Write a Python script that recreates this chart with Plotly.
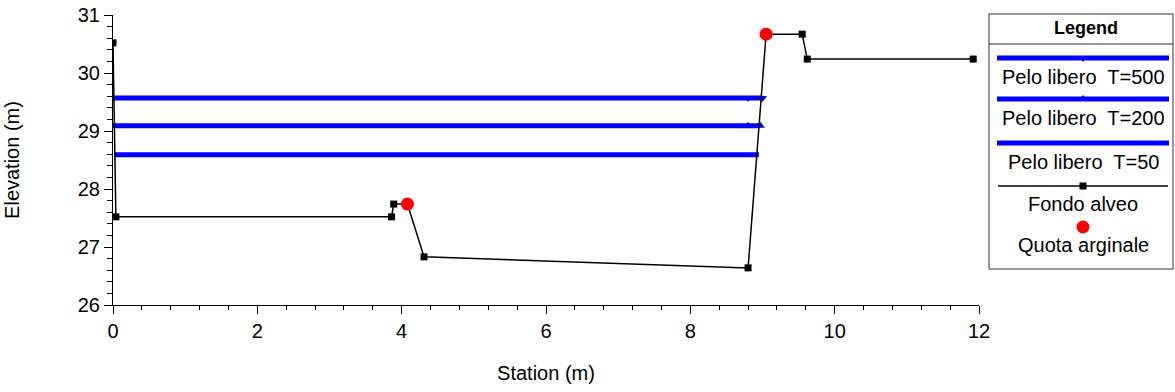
import plotly.graph_objects as go

# ---- data ----
station_fondo = [0.0, 0.04, 3.86, 3.89, 4.08, 4.31, 8.80, 9.05, 9.55, 9.62, 11.92]
quota_fondo = [30.52, 27.52, 27.52, 27.74, 27.74, 26.83, 26.64, 30.67, 30.67, 30.24, 30.24]

station_argine = [4.08, 9.05]
quota_argine = [27.74, 30.67]

station_t500 = [0.01, 8.80, 9.00]
quota_t500 = [29.57, 29.57, 29.57]
station_t200 = [0.02, 8.80, 8.97]
quota_t200 = [29.09, 29.09, 29.09]
station_t50 = [0.02, 8.80, 8.95]
quota_t50 = [28.59, 28.59, 28.59]

legend_labels = ["Pelo libero  T=500", "Pelo libero  T=200", "Pelo libero  T=50",
                 "Fondo alveo", "Quota arginale"]

FONT = "Liberation Sans, Arial, sans-serif"
BLUE = "#0000ff"
FS = 20

fig = go.Figure()
fig.add_trace(go.Scatter(x=station_t50, y=quota_t50, mode="lines",
                         line=dict(color=BLUE, width=5), name=legend_labels[2]))
fig.add_trace(go.Scatter(x=station_t200, y=quota_t200, mode="lines+markers",
                         line=dict(color=BLUE, width=5),
                         marker=dict(symbol="triangle-up", size=8, color=BLUE),
                         name=legend_labels[1]))
fig.add_trace(go.Scatter(x=station_t500, y=quota_t500, mode="lines+markers",
                         line=dict(color=BLUE, width=5),
                         marker=dict(symbol="triangle-down", size=8, color=BLUE),
                         name=legend_labels[0]))
fig.add_trace(go.Scatter(x=station_fondo, y=quota_fondo, mode="lines+markers",
                         line=dict(color="black", width=1.5),
                         marker=dict(symbol="square", size=7, color="black"),
                         name=legend_labels[3]))
fig.add_trace(go.Scatter(x=station_argine, y=quota_argine, mode="markers",
                         marker=dict(symbol="circle", size=13, color="#ff0000"),
                         name=legend_labels[4]))

# ---- custom legend box (pixel -> paper helpers) ----
L, T, W, H = 113, 15, 866, 290
def px(x):
    return (x - L) / W
def py(y):
    return (T + H - y) / H

shapes = []
annotations = []
# box
shapes.append(dict(type="rect", xref="paper", yref="paper",
                   x0=px(989), x1=px(1173), y0=py(269), y1=py(14),
                   line=dict(color="#333333", width=1), fillcolor="white"))
shapes.append(dict(type="line", xref="paper", yref="paper",
                   x0=px(989), x1=px(1173), y0=py(44), y1=py(44),
                   line=dict(color="#333333", width=1)))
annotations.append(dict(text="<b>Legend</b>", xref="paper", yref="paper",
                        x=px(1086), y=py(28), showarrow=False,
                        xanchor="center", yanchor="middle",
                        font=dict(family=FONT, size=18, color="black")))
cx = 1083
line_rows = [58, 99, 143]
text_rows = [77, 118, 162]
for i in range(3):
    yl = line_rows[i]
    shapes.append(dict(type="line", xref="paper", yref="paper",
                       x0=px(997), x1=px(1169), y0=py(yl), y1=py(yl),
                       line=dict(color=BLUE, width=5)))
    annotations.append(dict(text=legend_labels[i], xref="paper", yref="paper",
                            x=px(cx), y=py(text_rows[i]), showarrow=False,
                            xanchor="center", yanchor="middle",
                            font=dict(family=FONT, size=FS, color="black")))
# tiny marker ticks on legend lines
shapes.append(dict(type="path", xref="paper", yref="paper",
                   path=f"M {px(cx-3)},{py(58)} L {px(cx+3)},{py(58)} L {px(cx)},{py(62)} Z",
                   line=dict(color=BLUE, width=0), fillcolor=BLUE))
shapes.append(dict(type="path", xref="paper", yref="paper",
                   path=f"M {px(cx-3)},{py(99)} L {px(cx+3)},{py(99)} L {px(cx)},{py(95)} Z",
                   line=dict(color=BLUE, width=0), fillcolor=BLUE))
# fondo alveo
shapes.append(dict(type="line", xref="paper", yref="paper",
                   x0=px(998), x1=px(1168), y0=py(186), y1=py(186),
                   line=dict(color="black", width=1.5)))
shapes.append(dict(type="rect", xref="paper", yref="paper",
                   x0=px(cx-3.5), x1=px(cx+3.5), y0=py(189.5), y1=py(182.5),
                   line=dict(width=0), fillcolor="black"))
annotations.append(dict(text=legend_labels[3], xref="paper", yref="paper",
                        x=px(cx), y=py(204), showarrow=False,
                        xanchor="center", yanchor="middle",
                        font=dict(family=FONT, size=FS, color="black")))
# quota arginale
shapes.append(dict(type="circle", xref="paper", yref="paper",
                   x0=px(cx-6.5), x1=px(cx+6.5), y0=py(233.5), y1=py(220.5),
                   line=dict(width=0), fillcolor="#ff0000"))
annotations.append(dict(text=legend_labels[4], xref="paper", yref="paper",
                        x=px(cx), y=py(245), showarrow=False,
                        xanchor="center", yanchor="middle",
                        font=dict(family=FONT, size=FS, color="black")))

fig.update_layout(
    width=1175, height=392,
    margin=dict(l=L, r=1175 - L - W, t=T, b=392 - T - H),
    paper_bgcolor="white", plot_bgcolor="white",
    showlegend=False,
    font=dict(family=FONT, size=FS, color="black"),
    shapes=shapes, annotations=annotations,
    xaxis=dict(range=[0, 12], dtick=2, tick0=0, showgrid=False, zeroline=False,
               automargin=False,
               showline=True, linecolor="black", linewidth=1,
               ticks="outside", ticklen=8, tickcolor="black",
               minor=dict(dtick=0.4, tick0=0, ticks="outside", ticklen=4,
                          tickcolor="black", showgrid=False),
               tickfont=dict(size=FS),
               title=dict(text="Station (m)", font=dict(size=FS), standoff=24)),
    yaxis=dict(range=[26, 31], dtick=1, tick0=26, showgrid=False, zeroline=False,
               automargin=False,
               showline=True, linecolor="black", linewidth=1,
               ticks="outside", ticklen=8, tickcolor="black",
               minor=dict(dtick=0.2, tick0=26, ticks="outside", ticklen=5,
                          tickcolor="black", showgrid=False),
               tickfont=dict(size=FS),
               title=dict(text="Elevation (m)", font=dict(size=FS), standoff=52)),
)

fig.write_html("out.html")
